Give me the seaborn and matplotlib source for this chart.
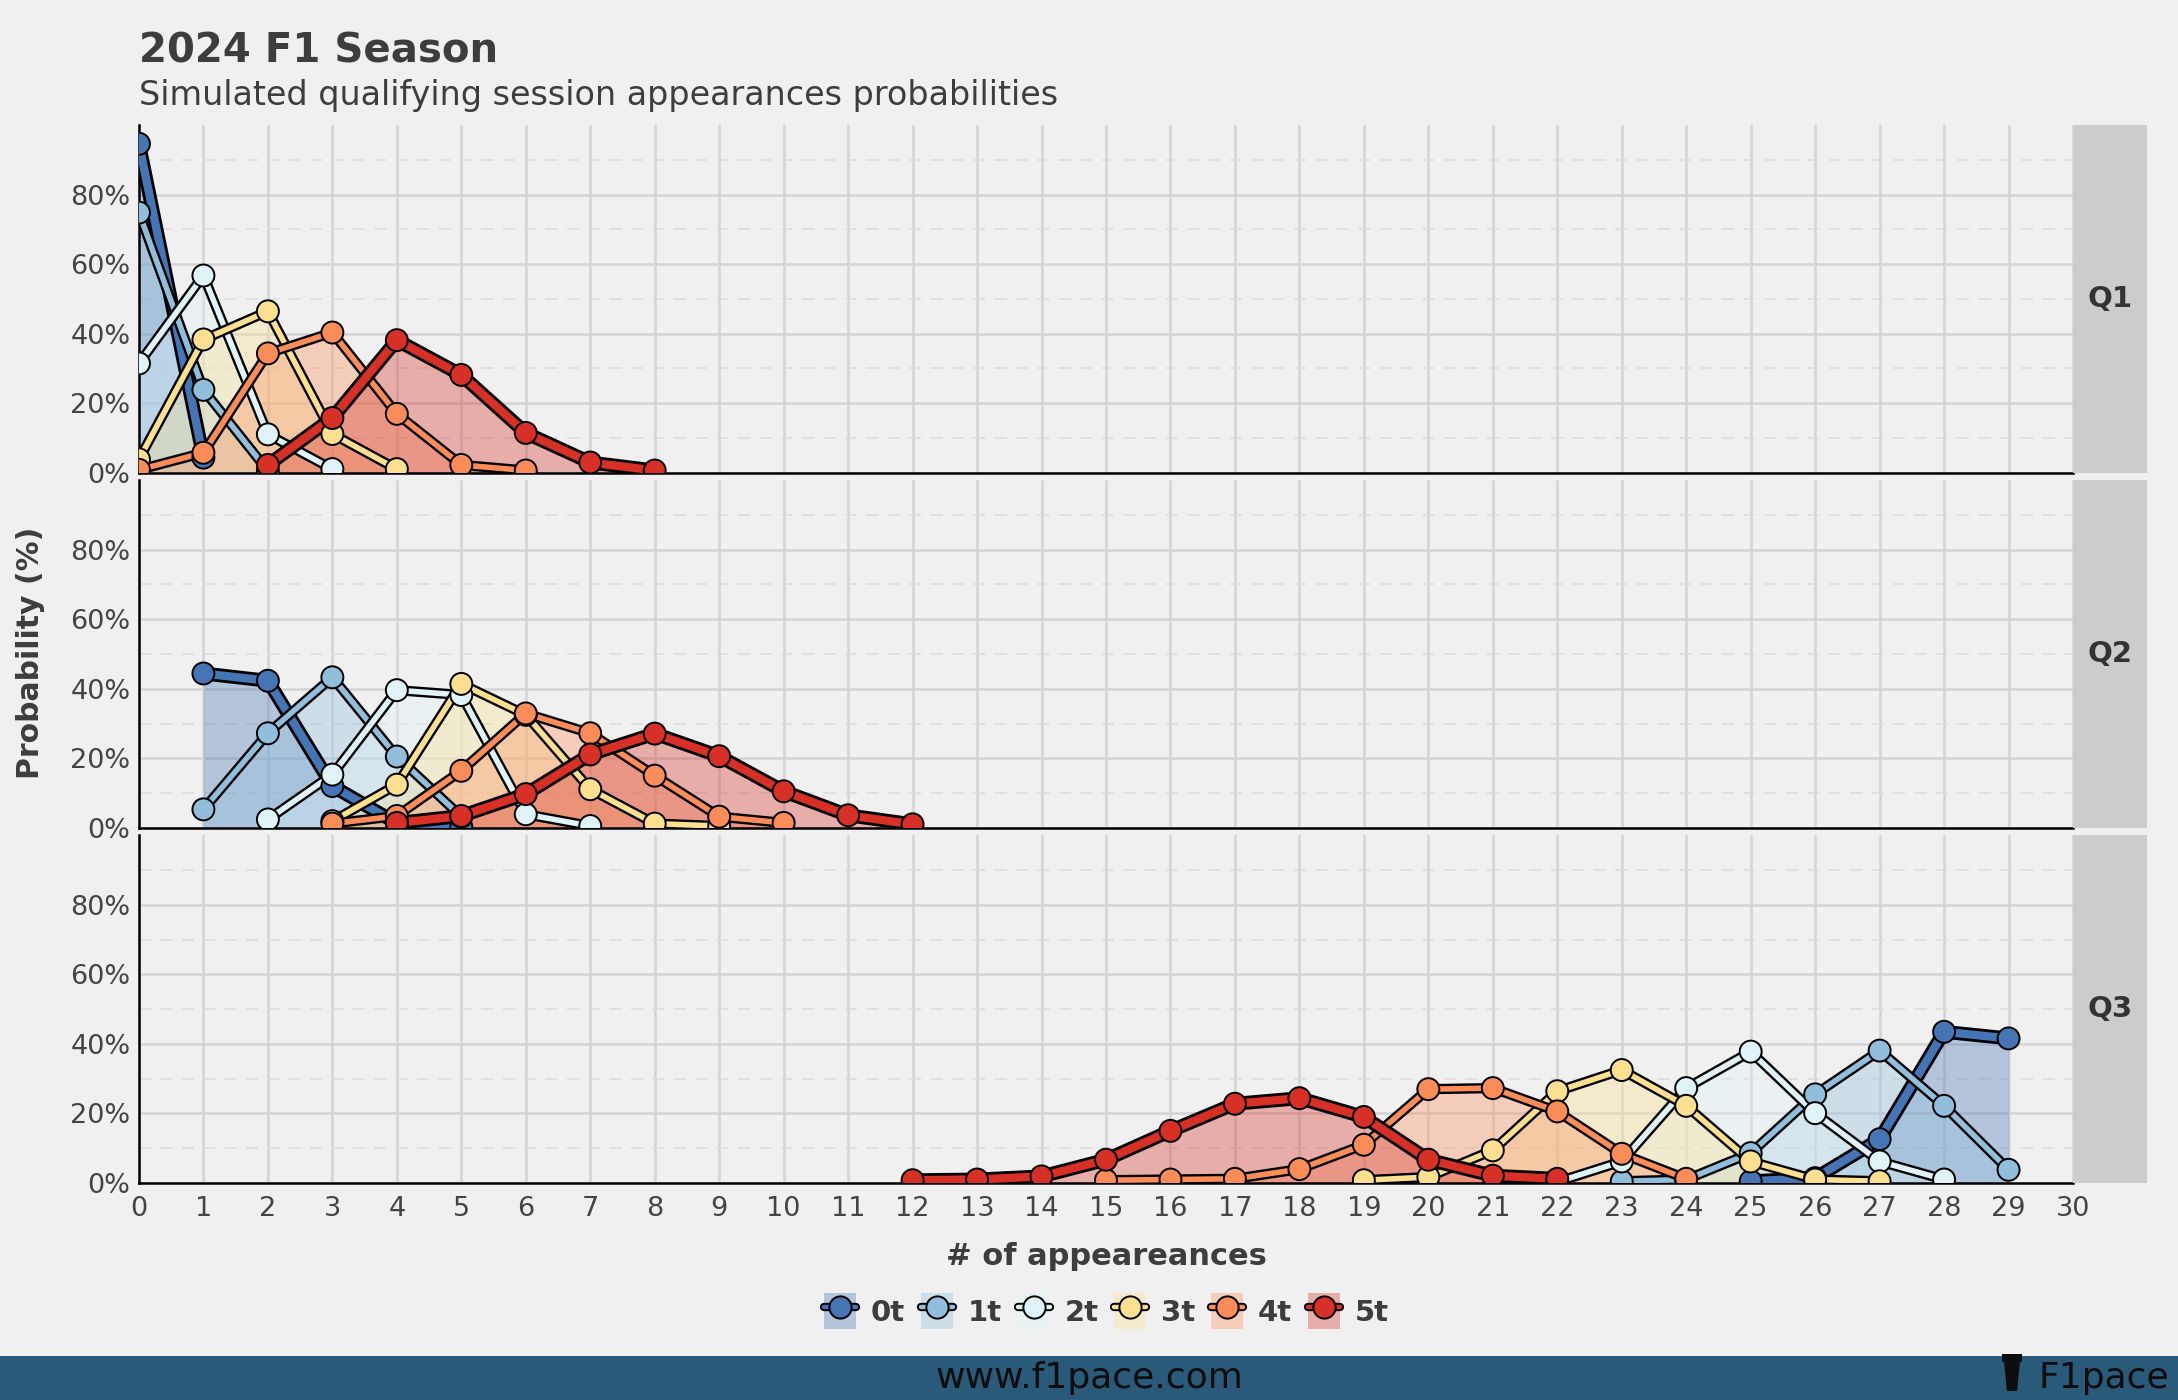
import numpy as np
import pandas as pd
import matplotlib
matplotlib.use("Agg")
import matplotlib.pyplot as plt
import matplotlib.patheffects as pe
from matplotlib.patches import Patch, Rectangle, Polygon
from matplotlib.lines import Line2D
from matplotlib.legend_handler import HandlerTuple
import seaborn as sns

# Data: probability (%) of N appearances per session, by number of tyre sets
tyres = ["0t", "1t", "2t", "3t", "4t", "5t"]
palette = ["#4575b4", "#91bfdb", "#e0f3f8", "#fee090", "#fc8d59", "#d73027"]
sessions = ["Q1", "Q2", "Q3"]

# first x value of each series
q1_start = [0, 0, 0, 0, 0, 2]
q2_start = [1, 1, 2, 3, 3, 4]
q3_start = [25, 23, 22, 19, 15, 12]

q1_probs = [
    [94.6, 4.3],
    [74.8, 23.8, 0.5],
    [31.4, 56.7, 11.0, 1.0],
    [3.8, 38.3, 46.4, 11.1, 1.0],
    [0.8, 5.7, 34.3, 40.3, 16.9, 2.2, 0.6],
    [2.2, 15.7, 38.1, 28.1, 11.4, 2.9, 0.6],
]
q2_probs = [
    [44.4, 42.3, 12.0, 1.3, 0.2],
    [5.3, 27.2, 43.3, 20.5, 3.2],
    [2.4, 15.3, 39.6, 38.2, 3.9, 0.5],
    [1.9, 12.4, 41.4, 32.5, 11.1, 1.2, 0.5],
    [1.2, 3.4, 16.4, 32.9, 27.2, 15.0, 3.2, 1.4],
    [1.4, 3.4, 9.7, 21.1, 27.1, 20.6, 10.5, 3.6, 1.0],
]
q3_probs = [
    [0.5, 1.4, 12.6, 43.5, 41.6],
    [0.5, 1.0, 8.6, 25.5, 38.1, 22.2, 3.8],
    [0.3, 6.2, 27.3, 37.8, 20.1, 6.2, 1.0],
    [0.8, 1.7, 9.4, 26.4, 32.5, 22.2, 6.2, 1.0, 0.5],
    [0.8, 1.0, 1.2, 4.0, 11.0, 27.0, 27.3, 20.6, 8.4, 1.2],
    [0.8, 1.0, 1.9, 6.7, 15.0, 22.8, 24.4, 19.0, 6.7, 2.1, 1.2],
]

# long format table
rows = []
for sess, starts, probs in zip(sessions, [q1_start, q2_start, q3_start], [q1_probs, q2_probs, q3_probs]):
    for t, s, vals in zip(tyres, starts, probs):
        for i, v in enumerate(vals):
            rows.append({"session": sess, "tyres": t, "n": s + i, "prob": v})
df = pd.DataFrame(rows)

BG = "#f0f0f0"
TXT = "#3d3d3d"

sns.set_style("white")
plt.rcParams["font.family"] = ["DejaVu Sans"]

fig, axes = plt.subplots(3, 1, figsize=(21.78, 14), dpi=100, sharex=True)
fig.patch.set_facecolor(BG)
fig.subplots_adjust(left=0.0638, right=0.9518, top=0.9107, bottom=0.155, hspace=0.022)

colors = dict(zip(tyres, palette))
thick = {"0t": (10.0, 6.0), "5t": (10.0, 6.0)}

for ax, sess in zip(axes, sessions):
    ax.set_facecolor(BG)
    sub = df[df["session"] == sess]

    for t in tyres:
        d = sub[sub["tyres"] == t]
        ax.fill_between(d["n"], d["prob"], color=colors[t], alpha=0.35, lw=0, zorder=2)

    for t in tyres:
        d = sub[sub["tyres"] == t]
        outer, inner = thick.get(t, (7.4, 4.0))
        sns.lineplot(data=d, x="n", y="prob", color=colors[t], lw=inner,
                     errorbar=None, ax=ax, zorder=3)
        ax.lines[-1].set_path_effects([pe.Stroke(linewidth=outer, foreground="black"), pe.Normal()])
        ax.lines[-1].set_solid_capstyle("round")

    sns.scatterplot(data=sub, x="n", y="prob", hue="tyres", palette=colors,
                    hue_order=tyres, s=250, edgecolor="black", linewidth=1.4,
                    legend=False, ax=ax, zorder=4)

    ax.set_xlim(0, 30)
    ax.set_ylim(0, 100)
    ax.set_xticks(range(0, 31))
    ax.set_yticks([0, 20, 40, 60, 80])
    ax.set_yticks([10, 30, 50, 70, 90], minor=True)
    ax.set_yticklabels([f"{v}%" for v in [0, 20, 40, 60, 80]])
    ax.set_axisbelow(True)
    ax.grid(which="major", axis="both", color="#d4d4d4", lw=1.8)
    ax.grid(which="minor", axis="y", color="#dcdcdc", lw=1.1, ls=(0, (8, 6)))
    ax.tick_params(which="both", length=0, labelsize=19.5, labelcolor="#444444", pad=6)
    for side in ["top", "right"]:
        ax.spines[side].set_visible(False)
    for side in ["left", "bottom"]:
        ax.spines[side].set_color("black")
        ax.spines[side].set_linewidth(1.8)
    ax.set_xlabel("")
    ax.set_ylabel("")

    # facet strip on the right
    pos = ax.get_position()
    strip = fig.add_axes([pos.x1, pos.y0, 0.034, pos.height])
    strip.set_facecolor("#cccccc")
    strip.set_xticks([])
    strip.set_yticks([])
    for s in strip.spines.values():
        s.set_visible(False)
    strip.text(0.5, 0.5, sess, ha="center", va="center", fontsize=21,
               fontweight="bold", color="#333333", transform=strip.transAxes)

axes[-1].set_xlabel("# of appeareances", fontsize=22, fontweight="bold", color=TXT, labelpad=15)
axes[-1].tick_params(axis="x", pad=9)
fig.text(0.014, 0.534, "Probability (%)", rotation=90, ha="center", va="center",
         fontsize=21.5, fontweight="bold", color=TXT)

fig.text(0.0638, 0.9557, "2024 F1 Season", fontsize=29, fontweight="bold", color=TXT, va="baseline")
fig.text(0.0638, 0.925, "Simulated qualifying session appearances probabilities",
         fontsize=24, color=TXT, va="baseline")

# legend
handles = []
for t in tyres:
    handles.append((
        Patch(facecolor=colors[t], alpha=0.35, edgecolor="none"),
        Line2D([], [], color="black", lw=6),
        Line2D([], [], color=colors[t], lw=3.2),
        Line2D([], [], marker="o", ls="none", markersize=16, markerfacecolor=colors[t],
               markeredgecolor="black", markeredgewidth=1.4),
    ))
leg = fig.legend(handles, tyres, loc="center", bbox_to_anchor=(0.508, 0.0636), ncol=6,
                 frameon=False, handler_map={tuple: HandlerTuple(ndivide=1)},
                 handlelength=1.1, handleheight=1.5, handletextpad=0.5, columnspacing=0.55,
                 prop={"size": 21, "weight": "bold"})
for txt in leg.get_texts():
    txt.set_color(TXT)

# footer band
fig.patches.append(Rectangle((0, 0), 1, 0.0314, transform=fig.transFigure,
                             facecolor="#2a5a7a", edgecolor="none", zorder=0))
fig.text(0.5, 0.0157, "www.f1pace.com", ha="center", va="center", fontsize=26, color="#0d0d0d")
fig.text(0.996, 0.0157, "F1pace", ha="right", va="center", fontsize=26, color="#0d0d0d")
cup = Polygon([[2004 / 2178, 0.0271], [2020 / 2178, 0.0271], [2017 / 2178, 0.0064], [2007 / 2178, 0.0064]],
              closed=True, transform=fig.transFigure, facecolor="#0d0d0d", edgecolor="none")
lid = Rectangle((2002 / 2178, 0.0271), 20 / 2178, 0.0057, transform=fig.transFigure,
                facecolor="#0d0d0d", edgecolor="none")
fig.patches.extend([cup, lid])

fig.savefig("out.png", dpi=100, facecolor=BG)
